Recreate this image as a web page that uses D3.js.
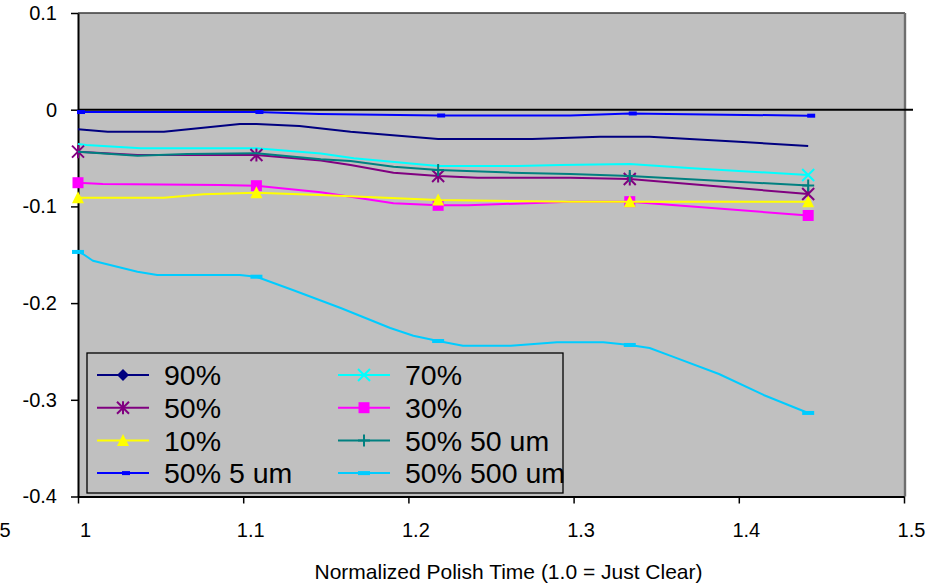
<!DOCTYPE html>
<html>
<head>
<meta charset="utf-8">
<script src="https://cdn.jsdelivr.net/npm/d3@7"></script>
<style>
  html, body { margin: 0; padding: 0; background: #ffffff; }
  svg { display: block; font-family: "Liberation Sans", Arial, Helvetica, sans-serif; }
</style>
</head>
<body>
<svg id="chart" width="926" height="588"></svg>
<script>
// Polish times (normalized) at which each dishing measurement was taken
const polishTimes = [1.000, 1.108, 1.218, 1.334, 1.442];

// Axis ticks
const xTicks = [1, 1.1, 1.2, 1.3, 1.4, 1.5];
const yTicks = [0.1, 0, -0.1, -0.2, -0.3, -0.4];
const xEdgeLabel = "5";
const xTitle = "Normalized Polish Time (1.0 = Just Clear)";

// Series names (legend order)
const seriesNames = ["90%", "70%", "50%", "30%", "10%", "50% 50 um", "50% 5 um", "50% 500 um"];

// Traced curves: [normalized polish time, step height]
const s90 = [[1.000,-0.0203],[1.018,-0.0228],[1.052,-0.0228],[1.098,-0.0148],[1.108,-0.0148],[1.134,-0.0169],
             [1.165,-0.0228],[1.218,-0.0303],[1.275,-0.0303],[1.316,-0.0279],[1.334,-0.0279],[1.346,-0.0279],
             [1.400,-0.0331],[1.442,-0.0375]];
const s70 = [[1.000,-0.0355],[1.005,-0.0365],[1.038,-0.0399],[1.108,-0.0399],[1.147,-0.0453],[1.167,-0.0503],
             [1.218,-0.0582],[1.266,-0.0582],[1.292,-0.0572],[1.334,-0.0561],[1.372,-0.0606],[1.442,-0.0675]];
const s50 = [[1.000,-0.0434],[1.036,-0.0468],[1.108,-0.0468],[1.147,-0.0525],[1.165,-0.0572],[1.191,-0.0652],
             [1.218,-0.0686],[1.242,-0.0703],[1.298,-0.0703],[1.334,-0.0717],[1.442,-0.0872]];
const s30 = [[1.000,-0.0755],[1.015,-0.0768],[1.086,-0.0779],[1.108,-0.0786],[1.147,-0.0854],[1.165,-0.0900],
             [1.191,-0.0968],[1.218,-0.0989],[1.236,-0.0989],[1.298,-0.0951],[1.334,-0.0951],[1.442,-0.1094]];
const s10 = [[1.000,-0.0910],[1.052,-0.0910],[1.076,-0.0875],[1.108,-0.0858],[1.147,-0.0882],[1.218,-0.0934],
             [1.298,-0.0951],[1.334,-0.0951],[1.442,-0.0951]];
const s50um = [[1.000,-0.0434],[1.036,-0.0476],[1.066,-0.0458],[1.108,-0.0451],[1.147,-0.0513],[1.165,-0.0530],
               [1.191,-0.0589],[1.218,-0.0624],[1.262,-0.0651],[1.298,-0.0665],[1.334,-0.0686],[1.442,-0.0784]];
const s5um = [[1.000,-0.0024],[1.108,-0.0024],[1.146,-0.0044],[1.218,-0.0060],[1.298,-0.0060],[1.334,-0.0039],
              [1.442,-0.0062]];
const s500um = [[1.000,-0.1471],[1.003,-0.1492],[1.009,-0.1562],[1.036,-0.1675],[1.048,-0.1710],[1.098,-0.1710],
                [1.108,-0.1727],[1.130,-0.1865],[1.159,-0.2051],[1.189,-0.2258],[1.203,-0.2337],[1.218,-0.2392],
                [1.233,-0.2441],[1.262,-0.2441],[1.290,-0.2405],[1.318,-0.2405],[1.334,-0.2433],[1.346,-0.2464],
                [1.360,-0.2554],[1.388,-0.2733],[1.415,-0.2950],[1.442,-0.3136]];

// Which polish-time points carry a visible marker
const markedPoints = [[], [4], [0,1,2,3,4], [0,1,2,3,4], [0,1,2,3,4], [2,3,4], [0,1,2,3,4], [0,1,2,3,4]];

const seriesColors  = ["#000080", "#00FFFF", "#800080", "#FF00FF", "#FFFF00", "#008080", "#0000FF", "#00CCFF"];
const seriesMarkers = ["diamond", "cross", "star", "square", "triangle", "plus", "dash", "wideDash"];

const seriesData = [s90, s70, s50, s30, s10, s50um, s5um, s500um];
const series = seriesNames.map((name, i) => ({
  name, values: seriesData[i], marks: markedPoints[i],
  color: seriesColors[i], marker: seriesMarkers[i]
}));

// ---- layout ----
const plot = { left: 78, right: 904, top: 13, bottom: 496.5 };
const svg = d3.select("#chart");

const x = d3.scaleLinear().domain([1, 1.5]).range([plot.left, plot.right]);
const y = d3.scaleLinear().domain([-0.4, 0.1]).range([plot.bottom, plot.top]);

// plot area
svg.append("rect")
  .attr("x", plot.left).attr("y", plot.top)
  .attr("width", plot.right - plot.left).attr("height", plot.bottom - plot.top)
  .attr("fill", "#C0C0C0");
svg.append("line")
  .attr("x1", plot.left).attr("x2", plot.right + 1)
  .attr("y1", plot.top).attr("y2", plot.top)
  .attr("stroke", "#3a3a3a").attr("stroke-width", 1.3);
svg.append("line")
  .attr("x1", plot.right + 1).attr("x2", plot.right + 1)
  .attr("y1", plot.top).attr("y2", plot.bottom)
  .attr("stroke", "#6e6e6e").attr("stroke-width", 2.4);

// zero reference line
svg.append("line")
  .attr("x1", plot.left).attr("x2", 913)
  .attr("y1", y(0)).attr("y2", y(0))
  .attr("stroke", "#000").attr("stroke-width", 2);

// axes
const yAxis = d3.axisLeft(y).tickValues(yTicks).tickSize(7).tickSizeOuter(0).tickPadding(14)
  .tickFormat(d => d === 0 ? "0" : d3.format(".1f")(d).replace("−", "-"));
const gy = svg.append("g").attr("transform", `translate(${plot.left},0)`).call(yAxis);

const xAxis = d3.axisBottom(x).tickValues(xTicks).tickSize(7).tickSizeOuter(0).tickPadding(19)
  .tickFormat(d => d === 1 ? "1" : d3.format(".1f")(d));
const gx = svg.append("g").attr("transform", `translate(0,${plot.bottom})`).call(xAxis);

[gx, gy].forEach(g => {
  g.select(".domain").attr("stroke", "#000").attr("stroke-width", 2);
  g.selectAll(".tick line").attr("stroke", "#000").attr("stroke-width", 1.5);
  g.selectAll(".tick text").attr("fill", "#000").attr("font-size", 20)
    .attr("font-family", "\"Liberation Sans\", Arial, sans-serif");
});
gx.selectAll(".tick text").attr("dx", 7);

// stray label at the left edge of the category row
svg.append("text")
  .attr("x", -0.5).attr("y", 537.3)
  .attr("text-anchor", "start").attr("font-size", 20).attr("fill", "#000")
  .text(xEdgeLabel);

svg.append("text")
  .attr("x", 508.5).attr("y", 579)
  .attr("text-anchor", "middle").attr("font-size", 21).attr("fill", "#000")
  .text(xTitle);

// ---- markers ----
function drawMarker(g, shape, cx, cy, color) {
  const m = g.append("g").attr("transform", `translate(${cx},${cy})`);
  switch (shape) {
    case "diamond":
      m.append("path").attr("d", "M0,-6L6,0L0,6L-6,0Z").attr("fill", color);
      break;
    case "cross":
      m.append("path").attr("d", "M-6,-6L6,6M-6,6L6,-6").attr("stroke", color).attr("stroke-width", 2).attr("fill", "none");
      break;
    case "star":
      m.append("path").attr("d", "M-6,-6L6,6M-6,6L6,-6M0,-6.5L0,6.5").attr("stroke", color).attr("stroke-width", 2).attr("fill", "none");
      break;
    case "square":
      m.append("rect").attr("x", -5.5).attr("y", -5.5).attr("width", 11).attr("height", 11).attr("fill", color);
      break;
    case "triangle":
      m.append("path").attr("d", "M0,-6.5L6,5.5L-6,5.5Z").attr("fill", color);
      break;
    case "plus":
      m.append("path").attr("d", "M0,-6L0,6M-6,0L6,0").attr("stroke", color).attr("stroke-width", 2).attr("fill", "none");
      break;
    case "dash":
      m.append("rect").attr("x", -1).attr("y", -2).attr("width", 8).attr("height", 4).attr("fill", color);
      break;
    case "wideDash":
      m.append("rect").attr("x", -6).attr("y", -2).attr("width", 12).attr("height", 4).attr("fill", color);
      break;
  }
}

// ---- series ----
const line = d3.line().x(d => x(d[0])).y(d => y(d[1])).curve(d3.curveLinear);
const gSeries = svg.append("g");
series.forEach(s => {
  const g = gSeries.append("g");
  g.append("path")
    .attr("d", line(s.values))
    .attr("fill", "none").attr("stroke", s.color).attr("stroke-width", 2)
    .attr("stroke-linejoin", "round").attr("stroke-linecap", "butt");
  s.marks.forEach(i => {
    const t = polishTimes[i];
    const pt = s.values.find(d => Math.abs(d[0] - t) < 1e-6);
    if (pt) drawMarker(g, s.marker, x(pt[0]), y(pt[1]), s.color);
  });
});

// ---- legend ----
const legend = { x: 87, y: 353, w: 476, h: 140 };
const lg = svg.append("g");
lg.append("rect")
  .attr("x", legend.x).attr("y", legend.y).attr("width", legend.w).attr("height", legend.h)
  .attr("fill", "#C0C0C0").attr("stroke", "#000").attr("stroke-width", 1.3);
const colX = [97, 338];
const rowY0 = 375, rowStep = 32.7;
series.forEach((s, i) => {
  const cx = colX[i % 2], cy = rowY0 + Math.floor(i / 2) * rowStep;
  lg.append("line").attr("x1", cx).attr("x2", cx + 52).attr("y1", cy).attr("y2", cy)
    .attr("stroke", s.color).attr("stroke-width", 2);
  drawMarker(lg, s.marker, cx + 26, cy, s.color);
  lg.append("text")
    .attr("x", cx + 67).attr("y", cy).attr("dy", "0.355em")
    .attr("font-size", 28.5).attr("fill", "#000")
    .text(s.name);
});
</script>
</body>
</html>
